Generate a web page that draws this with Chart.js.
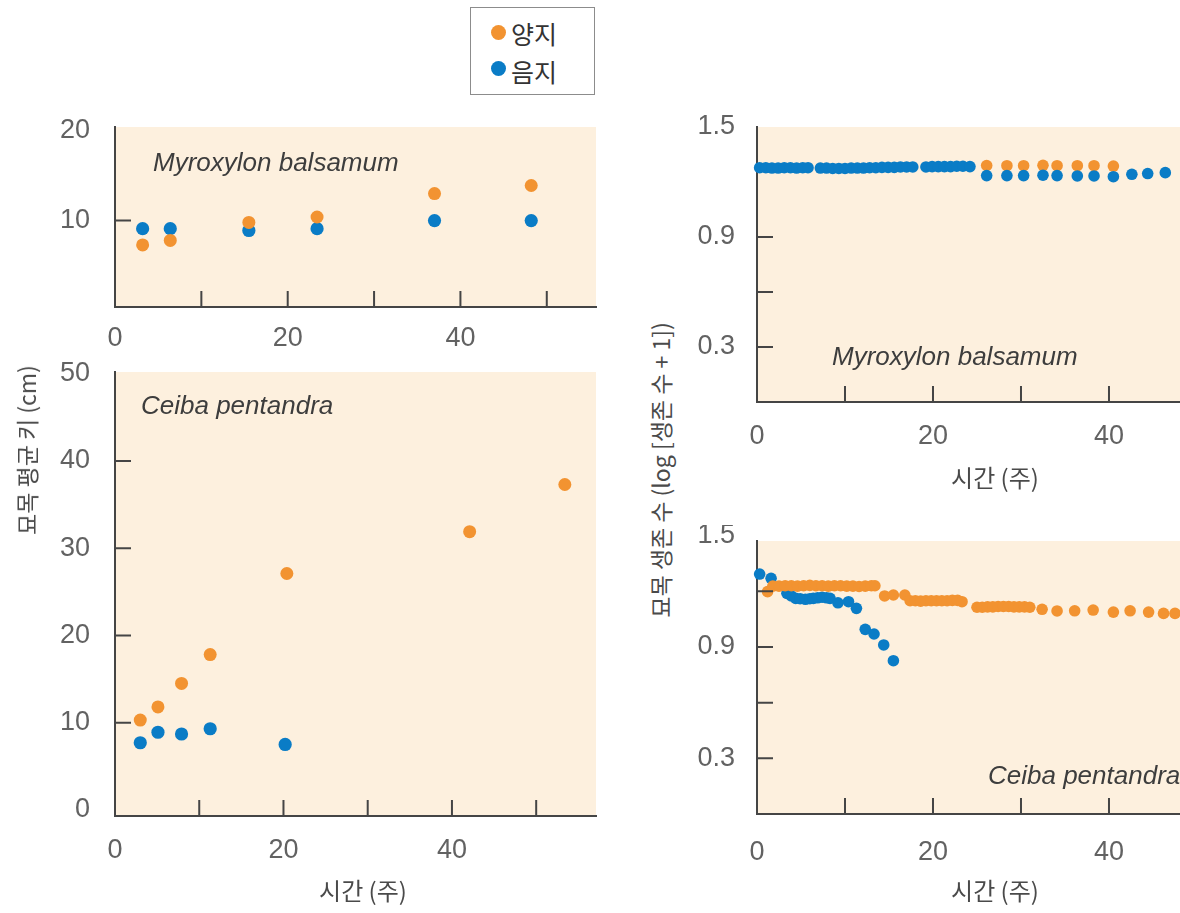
<!DOCTYPE html>
<html>
<head>
<meta charset="utf-8">
<script src="https://cdn.jsdelivr.net/npm/chart.js@4.4.1/dist/chart.umd.min.js"></script>
<style>
  html, body { margin:0; padding:0; background:#ffffff; width:1180px; height:913px; overflow:hidden; }
  body { position:relative; font-family:'Liberation Sans','Noto Sans CJK KR',sans-serif; }
  canvas.panel { position:absolute; }
  .species { position:absolute; font-family:'Liberation Sans',sans-serif; font-style:italic; font-size:26px; line-height:26px; color:#3d3d3d; white-space:nowrap; }
  .xtitle { position:absolute; transform:translate(-50%,-50%); font-family:'Noto Sans CJK KR',sans-serif; font-size:24px; line-height:30px; color:#4a4a4a; white-space:nowrap; }
  .ytitle { position:absolute; transform:translate(-50%,-50%) rotate(-90deg); font-family:'Noto Sans CJK KR',sans-serif; font-size:23px; line-height:28px; color:#4a4a4a; white-space:nowrap; }
  #legend { position:absolute; left:470px; top:7px; width:123px; height:86px; border:1.5px solid #8c8c8c; background:#fff; }
  .lg-dot { position:absolute; width:15px; height:15px; border-radius:50%; }
  .lg-txt { position:absolute; font-family:'Noto Sans CJK KR',sans-serif; font-size:25px; line-height:30px; color:#333; white-space:nowrap; }
</style>
</head>
<body>
<canvas id="tl" class="panel" width="580" height="260" style="left:40px;top:110px;"></canvas>
<canvas id="bl" class="panel" width="580" height="558" style="left:40px;top:355px;"></canvas>
<canvas id="tr" class="panel" width="500" height="400" style="left:680px;top:110px;"></canvas>
<canvas id="br" class="panel" width="500" height="388" style="left:680px;top:525px;"></canvas>

<div id="legend">
  <div class="lg-dot" style="left:20px;top:17px;background:#F29331;"></div>
  <div class="lg-txt" style="left:40px;top:10px;">양지</div>
  <div class="lg-dot" style="left:20px;top:53px;background:#0A7CC6;"></div>
  <div class="lg-txt" style="left:40px;top:48px;">음지</div>
</div>

<div class="species" style="left:153px;top:149px;">Myroxylon balsamum</div>
<div class="species" style="left:141px;top:392px;">Ceiba pentandra</div>
<div class="species" style="left:832px;top:343px;">Myroxylon balsamum</div>
<div class="species" style="left:988px;top:762px;">Ceiba pentandra</div>

<div class="xtitle" style="left:363px;top:890px;">시간 (주)</div>
<div class="xtitle" style="left:995px;top:477px;">시간 (주)</div>
<div class="xtitle" style="left:995px;top:890px;">시간 (주)</div>

<div class="ytitle" style="left:26px;top:450px;">묘목 평균 키 (cm)</div>
<div class="ytitle" style="left:660px;top:470px;">묘목 생존 수 (log [생존 수 + 1])</div>

<script>
// ---------------- DATA ----------------
// Myroxylon balsamum – mean seedling height (cm)
const myroxHeightWeeks = [3.2, 6.4, 15.5, 23.4, 37.0, 48.2];
const myroxHeightSun   = [7.3, 7.8, 9.8, 10.4, 13.0, 13.9];
const myroxHeightShade = [9.1, 9.1, 8.9, 9.1, 10.0, 10.0];

// Ceiba pentandra – mean seedling height (cm)
const ceibaHeightSunWeeks   = [3.0, 5.1, 7.9, 11.3, 20.4, 42.1, 53.4];
const ceibaHeightSun        = [10.3, 11.8, 14.5, 17.8, 27.1, 31.9, 37.3];
const ceibaHeightShadeWeeks = [3.0, 5.1, 7.9, 11.3, 20.2];
const ceibaHeightShade      = [7.7, 8.9, 8.7, 9.3, 7.5];

// Myroxylon balsamum – survival (log[n+1])
const myroxSurvSunWeeks   = [26.1, 28.4, 30.3, 32.5, 34.1, 36.4, 38.3, 40.5];
const myroxSurvSun        = [1.290, 1.289, 1.289, 1.291, 1.289, 1.289, 1.289, 1.287];
const myroxSurvShadeWeeks = [0.3, 1.0, 1.7, 2.4, 3.1, 3.8, 4.5, 5.2, 5.8,
                             7.2, 7.9, 8.6, 9.3, 10.0, 10.7, 11.4, 12.1, 12.8, 13.5, 14.2, 14.9, 15.6, 16.3, 17.0, 17.7,
                             19.2, 19.9, 20.6, 21.3, 22.0, 22.7, 23.4, 24.2,
                             26.1, 28.4, 30.3, 32.5, 34.1, 36.4, 38.3, 40.5,
                             42.6, 44.4, 46.4];
const myroxSurvShade      = [1.278, 1.278, 1.276, 1.276, 1.278, 1.278, 1.276, 1.278, 1.278,
                             1.276, 1.276, 1.274, 1.274, 1.274, 1.276, 1.276, 1.276, 1.278, 1.278, 1.280, 1.280, 1.280, 1.282, 1.282, 1.282,
                             1.282, 1.284, 1.284, 1.284, 1.284, 1.286, 1.286, 1.284,
                             1.235, 1.235, 1.235, 1.237, 1.235, 1.233, 1.233, 1.229,
                             1.242, 1.246, 1.251];

// Ceiba pentandra – survival (log[n+1])
const ceibaSurvSunWeeks = [1.2, 1.8, 2.5, 3.2, 3.9, 4.6, 5.3, 6.0, 6.7, 7.4, 8.1, 8.8, 9.5, 10.2, 10.9, 11.6, 12.3, 13.0, 13.4,
                           14.5, 15.5, 16.8,
                           17.4, 18.0, 18.6, 19.2, 19.8, 20.4, 21.0, 21.6, 22.2, 22.8, 23.3,
                           25.0, 25.6, 26.2, 26.8, 27.4, 28.0, 28.6, 29.2, 29.8, 30.4, 31.0,
                           32.4, 34.1, 36.1, 38.2, 40.5, 42.4, 44.5, 46.2, 47.5];
const ceibaSurvSun      = [1.198, 1.228, 1.228, 1.230, 1.230, 1.228, 1.230, 1.232, 1.230, 1.230, 1.228, 1.230, 1.230, 1.228, 1.228, 1.226, 1.228, 1.230, 1.230,
                           1.175, 1.180, 1.180,
                           1.149, 1.149, 1.147, 1.149, 1.149, 1.149, 1.149, 1.149, 1.151, 1.151, 1.144,
                           1.114, 1.114, 1.116, 1.116, 1.118, 1.118, 1.118, 1.116, 1.116, 1.116, 1.114,
                           1.103, 1.094, 1.095, 1.099, 1.088, 1.095, 1.088, 1.081, 1.081];
const ceibaSurvShadeWeeks = [0.3, 1.6, 3.4, 3.9, 4.4, 4.9, 5.5, 6.0, 6.4, 6.9, 7.4, 7.9, 8.3,
                             9.2, 10.4, 11.3, 12.3, 13.3, 14.4, 15.5];
const ceibaSurvShade      = [1.293, 1.270, 1.189, 1.175, 1.162, 1.160, 1.157, 1.160, 1.162, 1.165, 1.168, 1.165, 1.162,
                             1.138, 1.144, 1.108, 0.995, 0.970, 0.911, 0.826];

// Axis ticks
const heightXLabels = [0, 20, 40];
const heightXMarks  = [10, 20, 30, 40, 50];
const myroxHeightYLabels = [10, 20];
const myroxHeightYMarks  = [10];
const ceibaHeightYLabels = [0, 10, 20, 30, 40, 50];
const ceibaHeightYMarks  = [10, 20, 30, 40];
const survXLabels = [0, 20, 40];
const survXMarks  = [10, 20, 30, 40];
const survYLabels = [0.3, 0.9, 1.5];
const myroxSurvYMarks = [0.3, 0.6, 0.9];
const ceibaSurvYMarks = [0.3, 0.6, 0.9, 1.2];

// ---------------- STYLE ----------------
const SUN = '#F29331';
const SHADE = '#0A7CC6';
const BG = '#FDF0DE';
const AXIS = '#454545';
const TICK_COLOR = '#626262';
const TICK_FONT = { family: "'Liberation Sans', sans-serif", size: 27, weight: 'normal' };

const panelPlugin = {
  id: 'panel',
  beforeDraw(chart) {
    const a = chart.chartArea, c = chart.ctx;
    c.save();
    c.fillStyle = BG;
    c.fillRect(a.left, a.top, a.right - a.left, a.bottom - a.top);
    c.restore();
  },
  afterDatasetsDraw(chart, args, o) {
    const a = chart.chartArea, c = chart.ctx, xs = chart.scales.x, ys = chart.scales.y;
    c.save();
    c.strokeStyle = AXIS;
    c.lineWidth = 2;
    c.beginPath();
    (o.xMarks || []).forEach(v => { const p = xs.getPixelForValue(v); c.moveTo(p, a.bottom); c.lineTo(p, a.bottom - 16); });
    (o.yMarks || []).forEach(v => { const p = ys.getPixelForValue(v); c.moveTo(a.left, p); c.lineTo(a.left + 16, p); });
    c.stroke();
    c.restore();
  }
};

function makePanel(id, geo, xa, ya, sets) {
  return new Chart(document.getElementById(id), {
    type: 'scatter',
    data: {
      datasets: sets.map(s => ({
        label: s.label,
        data: s.x.map((v, i) => ({ x: v, y: s.y[i] })),
        backgroundColor: s.color,
        borderColor: s.color,
        borderWidth: 0,
        pointRadius: s.r,
        pointHoverRadius: s.r,
        clip: false
      }))
    },
    options: {
      responsive: false,
      animation: false,
      events: [],
      layout: { autoPadding: false, padding: { top: geo.padTop, right: geo.padRight, left: 0, bottom: 0 } },
      plugins: {
        legend: { display: false },
        tooltip: { enabled: false },
        panel: { xMarks: xa.marks, yMarks: ya.marks }
      },
      scales: {
        x: {
          type: 'linear', position: 'bottom', min: xa.min, max: xa.max,
          grid: { display: false, drawTicks: false },
          border: { display: true, color: AXIS, width: 2 },
          ticks: { autoSkip: false, maxRotation: 0, padding: xa.pad, color: TICK_COLOR, font: TICK_FONT,
                   callback: v => String(v) },
          afterBuildTicks: s => { s.ticks = xa.labels.map(v => ({ value: v })); },
          afterFit: s => { s.height = geo.xH; s.paddingLeft = 0; s.paddingRight = 0; s.paddingTop = 0; s.paddingBottom = 0; }
        },
        y: {
          type: 'linear', position: 'left', min: ya.min, max: ya.max,
          grid: { display: false, drawTicks: false },
          border: { display: true, color: AXIS, width: 2 },
          ticks: { autoSkip: false, padding: ya.pad, color: TICK_COLOR, font: TICK_FONT,
                   callback: v => ya.fmt ? ya.fmt(v) : String(v) },
          afterBuildTicks: s => { s.ticks = ya.labels.map(v => ({ value: v })); },
          afterFit: s => { s.width = geo.yW; s.paddingLeft = 0; s.paddingRight = 0; s.paddingTop = 0; s.paddingBottom = 0; }
        }
      }
    },
    plugins: [panelPlugin]
  });
}

// Top-left: Myroxylon height
makePanel('tl', { padTop: 17, padRight: 24, xH: 63, yW: 75 },
  { min: 0, max: 55.7, labels: heightXLabels, marks: heightXMarks, pad: 15 },
  { min: 0.4, max: 20.4, labels: myroxHeightYLabels, marks: myroxHeightYMarks, pad: 25 },
  [
    { label: '양지', x: myroxHeightWeeks, y: myroxHeightSun, color: SUN, r: 6.5 },
    { label: '음지', x: myroxHeightWeeks, y: myroxHeightShade, color: SHADE, r: 6.6 }
  ]);

// Bottom-left: Ceiba height
makePanel('bl', { padTop: 17, padRight: 24, xH: 97, yW: 75 },
  { min: 0, max: 57.1, labels: heightXLabels, marks: heightXMarks, pad: 18 },
  { min: -0.7, max: 50.2, labels: ceibaHeightYLabels, marks: ceibaHeightYMarks, pad: 25 },
  [
    { label: '양지', x: ceibaHeightSunWeeks, y: ceibaHeightSun, color: SUN, r: 6.5 },
    { label: '음지', x: ceibaHeightShadeWeeks, y: ceibaHeightShade, color: SHADE, r: 6.6 }
  ]);

// Top-right: Myroxylon survival
makePanel('tr', { padTop: 17, padRight: 0, xH: 108, yW: 77 },
  { min: 0, max: 48.07, labels: survXLabels, marks: survXMarks, pad: 18 },
  { min: 0, max: 1.5, labels: survYLabels, marks: myroxSurvYMarks, pad: 22, fmt: v => v.toFixed(1) },
  [
    { label: '음지', x: myroxSurvShadeWeeks, y: myroxSurvShade, color: SHADE, r: 5.8 },
    { label: '양지', x: myroxSurvSunWeeks, y: myroxSurvSun, color: SUN, r: 5.8 }
  ]);

// Bottom-right: Ceiba survival
makePanel('br', { padTop: 16, padRight: 0, xH: 99, yW: 77 },
  { min: 0, max: 48.07, labels: survXLabels, marks: survXMarks, pad: 22 },
  { min: 0, max: 1.471, labels: survYLabels, marks: ceibaSurvYMarks, pad: 22, fmt: v => v.toFixed(1) },
  [
    { label: '양지', x: ceibaSurvSunWeeks, y: ceibaSurvSun, color: SUN, r: 5.8 },
    { label: '음지', x: ceibaSurvShadeWeeks, y: ceibaSurvShade, color: SHADE, r: 5.8 }
  ]);
</script>
</body>
</html>
